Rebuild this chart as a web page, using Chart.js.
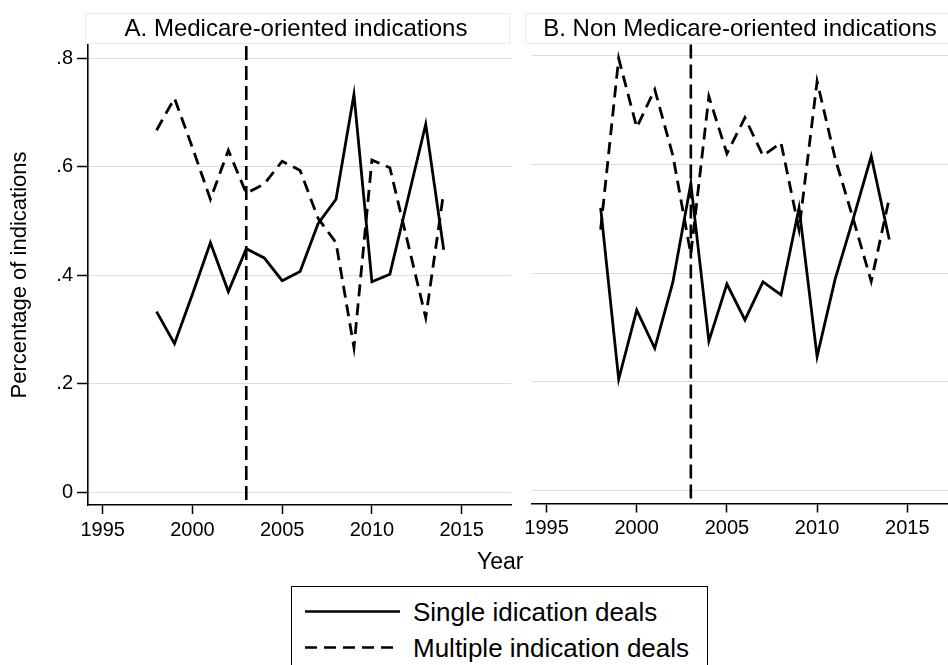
<!DOCTYPE html>
<html>
<head>
<meta charset="utf-8">
<title>Share of single vs multiple indication deals</title>
<script src="https://cdn.jsdelivr.net/npm/chart.js@4.4.1/dist/chart.umd.min.js"></script>
<style>
  html, body { margin: 0; padding: 0; background: #fff; overflow: hidden; width: 948px; height: 665px; }
  body { position: relative; font-family: "Liberation Sans", Arial, Helvetica, sans-serif; color: #000; }
  canvas { position: absolute; }
  .strip { position: absolute; top: 13px; height: 31px; border: 1px solid #ebebeb; box-sizing: border-box; }
  .label { position: absolute; white-space: nowrap; }
  .ptitle { font-size: 24px; line-height: 24px; text-align: center; }
  #ytitle { font-size: 22px; line-height: 22px; width: 320px; text-align: center; transform: rotate(-90deg); }
  #xtitle { font-size: 23px; line-height: 23px; }
  #legend { position: absolute; left: 291px; top: 586px; width: 417px; height: 110px; border: 1.5px solid #000; box-sizing: border-box; }
  .legtext { position: absolute; font-size: 26px; line-height: 26px; white-space: nowrap; }
</style>
</head>
<body>
<canvas id="panelA" style="left:0;top:0" width="520" height="560"></canvas>
<canvas id="panelB" style="left:520px;top:0" width="448" height="560"></canvas>

<div class="strip" style="left:85px;width:425px"></div>
<div class="strip" style="left:525px;width:440px"></div>
<div class="label ptitle" style="left:96px;width:400px;top:15.5px">A. Medicare-oriented indications</div>
<div class="label ptitle" style="left:540px;width:400px;top:15.5px">B. Non Medicare-oriented indications</div>

<div class="label" id="ytitle" style="left:-141px;top:264px">Percentage of indications</div>
<div class="label" id="xtitle" style="left:477px;top:550px">Year</div>

<div id="legend">
  <svg width="130" height="100" style="position:absolute;left:0;top:0">
    <line x1="13" y1="24.5" x2="108" y2="24.5" stroke="#000" stroke-width="2.6"/>
    <line x1="13" y1="60.5" x2="108" y2="60.5" stroke="#000" stroke-width="2.6" stroke-dasharray="12 7"/>
  </svg>
  <div class="legtext" style="left:121px;top:12px">Single idication deals</div>
  <div class="legtext" style="left:121px;top:48px">Multiple indication deals</div>
</div>

<script>
// Deal years
const years = [1998, 1999, 2000, 2001, 2002, 2003, 2004, 2005, 2006, 2007, 2008, 2009, 2010, 2011, 2012, 2013, 2014];

// A. Medicare-oriented indications
const singleA   = [0.333, 0.274, 0.365, 0.460, 0.370, 0.449, 0.432, 0.390, 0.407, 0.495, 0.540, 0.733, 0.388, 0.402, 0.540, 0.678, 0.447];
const multipleA = [0.667, 0.726, 0.635, 0.540, 0.630, 0.551, 0.568, 0.610, 0.593, 0.505, 0.460, 0.267, 0.612, 0.598, 0.460, 0.322, 0.553];

// B. Non Medicare-oriented indications
const singleB   = [0.520, 0.205, 0.332, 0.262, 0.383, 0.565, 0.275, 0.380, 0.314, 0.384, 0.360, 0.520, 0.247, 0.389, 0.500, 0.615, 0.462];
const multipleB = [0.480, 0.795, 0.668, 0.738, 0.617, 0.435, 0.725, 0.620, 0.686, 0.616, 0.640, 0.480, 0.753, 0.611, 0.500, 0.385, 0.538];

// Axis ticks
const xTickValues = [1995, 2000, 2005, 2010, 2015];
const yTickValues = [0, 0.2, 0.4, 0.6, 0.8];
const yTickLabels = ['0', '.2', '.4', '.6', '.8'];

// Medicare Modernization Act year, marked with a dashed vertical line
const markerYear = 2003;

const FONT = '"Liberation Sans", Arial, Helvetica, sans-serif';

const markerLine = {
  id: 'markerLine',
  afterDatasetsDraw(chart) {
    const { ctx, chartArea, scales } = chart;
    const x = scales.x.getPixelForValue(markerYear);
    ctx.save();
    ctx.strokeStyle = '#000';
    ctx.lineWidth = 2.6;
    ctx.setLineDash([14, 6]);
    ctx.beginPath();
    ctx.moveTo(x, chartArea.top + 1);
    ctx.lineTo(x, chartArea.bottom);
    ctx.stroke();
    ctx.restore();
  }
};

function toPoints(vals) {
  return years.map((yr, i) => ({ x: yr, y: vals[i] }));
}

function makePanel(id, single, multiple, cfg) {
  return new Chart(document.getElementById(id), {
    type: 'line',
    data: {
      datasets: [
        { label: 'Single idication deals', data: toPoints(single), borderColor: '#000', borderWidth: 2.8,
          pointRadius: 0, tension: 0, fill: false },
        { label: 'Multiple indication deals', data: toPoints(multiple), borderColor: '#000', borderWidth: 2.8,
          borderDash: [12, 7], pointRadius: 0, tension: 0, fill: false }
      ]
    },
    options: {
      responsive: false,
      animation: false,
      events: [],
      layout: { padding: cfg.padding },
      plugins: { legend: { display: false }, tooltip: { enabled: false }, title: { display: false } },
      scales: {
        x: {
          type: 'linear',
          min: cfg.xMin, max: cfg.xMax,
          afterBuildTicks: s => { s.ticks = xTickValues.map(v => ({ value: v })); },
          afterFit: s => { s.height = cfg.xAxisHeight; },
          ticks: { color: '#000', font: { family: FONT, size: 20 }, padding: 4, maxRotation: 0, autoSkip: false,
                   callback: v => String(v) },
          grid: { drawOnChartArea: false, drawTicks: true, tickLength: 9, tickColor: '#000', tickWidth: 1.5 },
          border: { display: true, color: '#000', width: 1.6 }
        },
        y: {
          min: cfg.yMin, max: cfg.yMax,
          afterBuildTicks: s => { s.ticks = yTickValues.map(v => ({ value: v })); },
          afterFit: s => { s.width = cfg.yAxisWidth; },
          ticks: { display: cfg.yLabels, color: '#000', font: { family: FONT, size: 20 }, padding: 4,
                   callback: (v, i) => yTickLabels[i] },
          grid: { color: '#dcdcdc', lineWidth: 1, drawTicks: cfg.yLabels, tickLength: 11, tickColor: '#000', tickWidth: 1.5 },
          border: { display: cfg.yLabels, color: '#000', width: 1.6 }
        }
      }
    },
    plugins: [markerLine]
  });
}

makePanel('panelA', singleA, multipleA, {
  padding: { left: 0, top: 45, right: 8.3, bottom: 0 },
  xMin: 1994.18, xMax: 2017.79, yMin: -0.023, yMax: 0.824,
  xAxisHeight: 55, yAxisWidth: 88, yLabels: true
});

makePanel('panelB', singleB, multipleB, {
  padding: { left: 0, top: 43.5, right: 10.2, bottom: 0 },
  xMin: 1994.19, xMax: 2017.8, yMin: -0.0235, yMax: 0.8224,
  xAxisHeight: 56.5, yAxisWidth: 8, yLabels: false
});
</script>
</body>
</html>
